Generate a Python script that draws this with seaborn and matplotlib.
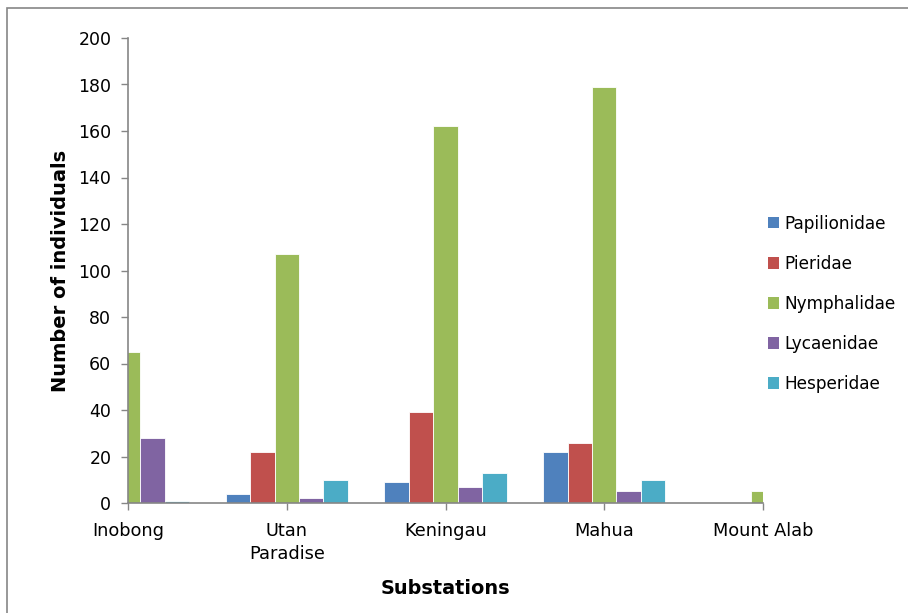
import matplotlib
matplotlib.use("Agg")
import matplotlib.pyplot as plt
import seaborn as sns
import pandas as pd
from matplotlib.patches import Rectangle, Patch

substations = ["Inobong", "Utan\nParadise", "Keningau", "Mahua", "Mount Alab"]
families = ["Papilionidae", "Pieridae", "Nymphalidae", "Lycaenidae", "Hesperidae"]
papilionidae = [0, 4, 9, 22, 0]
pieridae = [0, 22, 39, 26, 0]
nymphalidae = [65, 107, 162, 179, 5]
lycaenidae = [28, 2, 7, 5, 0]
hesperidae = [1, 10, 13, 10, 0]
colors = ["#4F81BD", "#C0504D", "#9BBB59", "#8064A2", "#4BACC6"]

series = [papilionidae, pieridae, nymphalidae, lycaenidae, hesperidae]
rows = []
for fam, vals in zip(families, series):
    for s, v in zip(substations, vals):
        rows.append({"Substation": s, "Family": fam, "Count": v})
df = pd.DataFrame(rows)

sns.set_style("white")
plt.rcParams["font.family"] = ["DejaVu Sans"]
plt.rcParams["text.color"] = "black"
plt.rcParams["axes.labelcolor"] = "black"
plt.rcParams["xtick.labelcolor"] = "black"
plt.rcParams["ytick.labelcolor"] = "black"

fig = plt.figure(figsize=(9.08, 6.13), dpi=100)
W, H = 908, 613
ax = fig.add_axes([128 / W, 1 - 503 / H, (763 - 128) / W, (503 - 38) / H])

sns.barplot(data=df, x="Substation", y="Count", hue="Family", order=substations,
            hue_order=families, palette=colors, width=0.77, gap=0,
            edgecolor="white", linewidth=0.6, saturation=1, ax=ax, legend=False)

ax.set_xlim(0, 4)
ax.set_ylim(0, 200)
ax.set_yticks(range(0, 201, 20))
ax.set_xticks(range(5))
ax.set_xticklabels(substations, fontsize=12.8)
ax.tick_params(axis="y", labelsize=12.5, length=5, width=1, color="#868686",
               direction="out", left=True, pad=7)
ax.tick_params(axis="x", length=5, width=1, color="#868686", direction="out",
               bottom=True, pad=9)
for lab in ax.get_xticklabels():
    lab.set_linespacing(1.3)
for sp in ["top", "right"]:
    ax.spines[sp].set_visible(False)
for sp in ["left", "bottom"]:
    ax.spines[sp].set_color("#868686")
    ax.spines[sp].set_linewidth(1.2)

ax.set_xlabel("Substations", fontsize=13.9, fontweight="bold", labelpad=12)
ax.set_ylabel("Number of individuals", fontsize=14, fontweight="bold", labelpad=6)

handles = [Patch(facecolor=c, edgecolor="none", label=f) for c, f in zip(colors, families)]
fig.legend(handles=handles, loc="upper left", bbox_to_anchor=(761 / W, 1 - 208 / H),
           frameon=False, fontsize=12.2, handlelength=0.65, handleheight=0.65,
           handletextpad=0.3, labelspacing=1.3, borderaxespad=0)

fig.patches.append(Rectangle((7 / W, -0.05), 1.05, 1 - 8 / H + 0.05, transform=fig.transFigure,
                             fill=False, edgecolor="#868686", linewidth=1.2))

fig.savefig("out.png", dpi=100)
